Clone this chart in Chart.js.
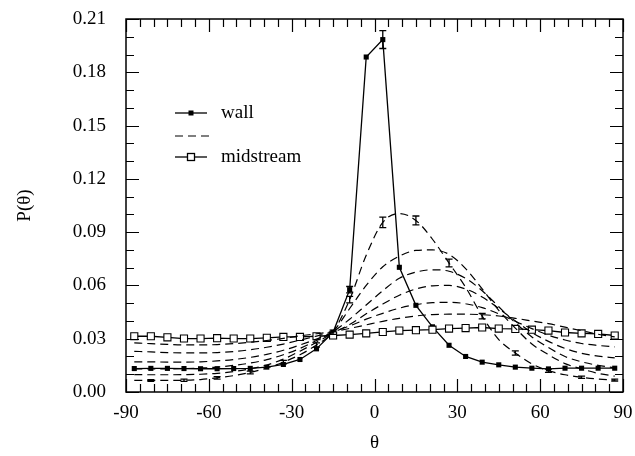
<!DOCTYPE html>
<html><head><meta charset="utf-8">
<script src="https://cdn.jsdelivr.net/npm/chart.js@4"></script>
<style>html,body{margin:0;padding:0;background:#fff}</style>
</head><body>
<canvas id="c" width="635" height="456"></canvas>
<script>
const theta = [-87,-81,-75,-69,-63,-57,-51,-45,-39,-33,-27,-21,-15,-9,-3,3,9,15,21,27,33,39,45,51,57,63,69,75,81,87];
const wall = [.0132,.0133,.0133,.0132,.0131,.0131,.0132,.0133,.0140,.0155,.0183,.0243,.0336,.0576,.1886,.1984,.0702,.0488,.0367,.0263,.0200,.0168,.0153,.0140,.0134,.0130,.0134,.0134,.0134,.0134];
const wallErr = [null,null,null,null,null,null,null,null,null,null,null,null,.0012,.0018,null,.005,null,null,null,null,null,null,null,null,null,null,null,null,null,null];
const midstream = [.0314,.0314,.0308,.0301,.0301,.0303,.0301,.0301,.0305,.0310,.0310,.0314,.0318,.0323,.0330,.0338,.0346,.0348,.0351,.0357,.0360,.0363,.0357,.0355,.0351,.0346,.0335,.0330,.0327,.0318];
const dashA = [.0065,.0065,.0065,.0066,.0070,.0080,.0092,.0110,.0135,.0168,.0210,.0265,.0340,.0520,.0770,.0955,.1005,.0966,.0860,.0726,.0590,.0427,.0295,.0220,.0158,.0120,.0097,.0083,.0073,.0067];
const dashAErr = [null,.0005,null,.0006,null,.0007,null,.0008,null,.0010,null,.0012,null,.0018,null,.0030,null,.0025,null,.0022,null,.0015,null,.0012,null,.0009,null,.0006,null,.0005];
const dashB = [.0098,.0097,.0097,.0098,.0100,.0105,.0115,.0130,.0152,.0185,.0230,.0280,.0340,.0470,.0600,.0705,.0765,.0797,.0800,.0775,.0695,.0580,.0460,.0360,.0270,.0210,.0160,.0130,.0105,.0089];
const dashC = [.0130,.0130,.0130,.0132,.0135,.0140,.0150,.0163,.0182,.0210,.0245,.0290,.0340,.0410,.0490,.0570,.0640,.0675,.0688,.0680,.0640,.0570,.0480,.0390,.0310,.0250,.0200,.0170,.0150,.0136];
const dashD = [.0170,.0170,.0168,.0168,.0170,.0175,.0183,.0195,.0212,.0235,.0265,.0298,.0335,.0380,.0440,.0495,.0545,.0580,.0598,.0600,.0580,.0535,.0470,.0400,.0335,.0285,.0245,.0218,.0202,.0192];
const dashE = [.0229,.0226,.0222,.0220,.0220,.0222,.0228,.0238,.0252,.0270,.0292,.0315,.0340,.0372,.0410,.0443,.0472,.0492,.0503,.0505,.0497,.0475,.0440,.0398,.0357,.0320,.0293,.0273,.0262,.0254];
const dashF = [.0277,.0272,.0268,.0265,.0265,.0267,.0272,.0280,.0290,.0302,.0316,.0328,.0340,.0358,.0378,.0398,.0415,.0428,.0436,.0438,.0438,.0435,.0428,.0415,.0400,.0385,.0365,.0345,.0325,.0310];
const xTicks = [-90,-60,-30,0,30,60,90];
const yTicks = [0,0.03,0.06,0.09,0.12,0.15,0.18,0.21];
const legendLabels = ['wall','','midstream'];

const FONT = {family:'"Liberation Serif", "DejaVu Serif", serif', size:19};
const pts = arr => theta.map((t,i)=>({x:t,y:arr[i]}));

function dashed(arr, err){
  return {data:pts(arr), borderColor:'#000', borderWidth:1.2, borderDash:[8,5], pointRadius:0,
          cubicInterpolationMode:'monotone', fill:false, errors:err||null};
}

const framePlugin = {
  id:'frame',
  afterDatasetsDraw(chart){
    const {ctx, chartArea:a, scales:{x,y}} = chart;
    ctx.save();
    ctx.strokeStyle='#000'; ctx.lineWidth=1.3;
    chart.data.datasets.forEach(ds=>{
      if(!ds.errors) return;
      ds.errors.forEach((e,i)=>{
        if(e==null) return;
        const px=x.getPixelForValue(ds.data[i].x);
        const y1=y.getPixelForValue(ds.data[i].y+e), y2=y.getPixelForValue(ds.data[i].y-e);
        ctx.beginPath();
        ctx.moveTo(px,y1); ctx.lineTo(px,y2);
        ctx.moveTo(px-3.5,y1); ctx.lineTo(px+3.5,y1);
        ctx.moveTo(px-3.5,y2); ctx.lineTo(px+3.5,y2);
        ctx.stroke();
      });
    });
    ctx.lineWidth=1.5;
    ctx.strokeRect(a.left,a.top,a.right-a.left,a.bottom-a.top);
    ctx.lineWidth=1.2;
    ctx.beginPath();
    for(let v=-90; v<=90; v+=5){
      const px=Math.round(x.getPixelForValue(v))+0.5;
      const L = (v%30===0)?13:8;
      ctx.moveTo(px,a.bottom); ctx.lineTo(px,a.bottom-L);
      ctx.moveTo(px,a.top); ctx.lineTo(px,a.top+L);
    }
    for(let k=0;k<=21;k++){
      const v=k/100;
      const py=Math.round(y.getPixelForValue(v))+0.5;
      const L=(k%3===0)?13:8;
      ctx.moveTo(a.left,py); ctx.lineTo(a.left+L,py);
      ctx.moveTo(a.right,py); ctx.lineTo(a.right-L,py);
    }
    ctx.stroke();
    const lx1=175, lx2=207, tx=221, rows=[113,136,157];
    ctx.font='19px "Liberation Serif", serif';
    ctx.fillStyle='#000'; ctx.textBaseline='middle'; ctx.textAlign='left';
    ctx.lineWidth=1.3; ctx.setLineDash([]);
    ctx.beginPath(); ctx.moveTo(lx1,rows[0]); ctx.lineTo(lx2,rows[0]); ctx.stroke();
    ctx.fillRect(191-2.5,rows[0]-2.5,5,5);
    ctx.fillText(legendLabels[0],tx,rows[0]);
    ctx.lineWidth=1.2; ctx.setLineDash([8,5]);
    ctx.beginPath(); ctx.moveTo(lx1,rows[1]); ctx.lineTo(lx2+3,rows[1]); ctx.stroke();
    ctx.setLineDash([]);
    ctx.lineWidth=1.3;
    ctx.beginPath(); ctx.moveTo(lx1,rows[2]); ctx.lineTo(lx2,rows[2]); ctx.stroke();
    ctx.fillStyle='#fff'; ctx.fillRect(191-3.5,rows[2]-3.5,7,7);
    ctx.strokeRect(191-3.5,rows[2]-3.5,7,7);
    ctx.fillStyle='#000';
    ctx.fillText(legendLabels[2],tx,rows[2]);
    ctx.restore();
  }
};

new Chart(document.getElementById('c'),{
  type:'line',
  data:{datasets:[
    dashed(dashF), dashed(dashE), dashed(dashD), dashed(dashC), dashed(dashB), dashed(dashA, dashAErr),
    {data:pts(midstream), borderColor:'#000', borderWidth:1.3, pointStyle:'rect', pointRadius:5,
     pointBackgroundColor:'#fff', pointBorderColor:'#000', pointBorderWidth:1.1, tension:0},
    {data:pts(wall), borderColor:'#000', borderWidth:1.3, pointStyle:'rect', pointRadius:3.6,
     pointBackgroundColor:'#000', pointBorderColor:'#000', pointBorderWidth:0, tension:0, errors:wallErr}
  ]},
  options:{
    responsive:false, devicePixelRatio:1, animation:false,
    layout:{padding:{top:19,right:12,left:0,bottom:0}},
    plugins:{legend:{display:false}, tooltip:{enabled:false}},
    scales:{
      x:{type:'linear', min:-90, max:90,
         afterBuildTicks(s){ s.ticks = xTicks.map(v=>({value:v})); },
         afterFit(s){ s.height=64; s.paddingLeft=0; s.paddingRight=0; },
         ticks:{font:FONT, color:'#000', padding:10, maxRotation:0, callback:v=>String(v)},
         grid:{display:false, drawTicks:false}, border:{display:false},
         title:{display:true, text:'θ', font:FONT, color:'#000', padding:{top:0,bottom:2}}},
      y:{type:'linear', min:0, max:0.21,
         afterBuildTicks(s){ s.ticks = yTicks.map(v=>({value:v})); },
         afterFit(s){ s.width=126; s.paddingTop=0; s.paddingBottom=0; },
         ticks:{font:FONT, color:'#000', padding:20, callback:v=>v.toFixed(2)},
         grid:{display:false, drawTicks:false}, border:{display:false},
         title:{display:true, text:'P(θ)', font:FONT, color:'#000', padding:{top:14,bottom:0}}}
    }
  },
  plugins:[framePlugin]
});
</script>
</body></html>
